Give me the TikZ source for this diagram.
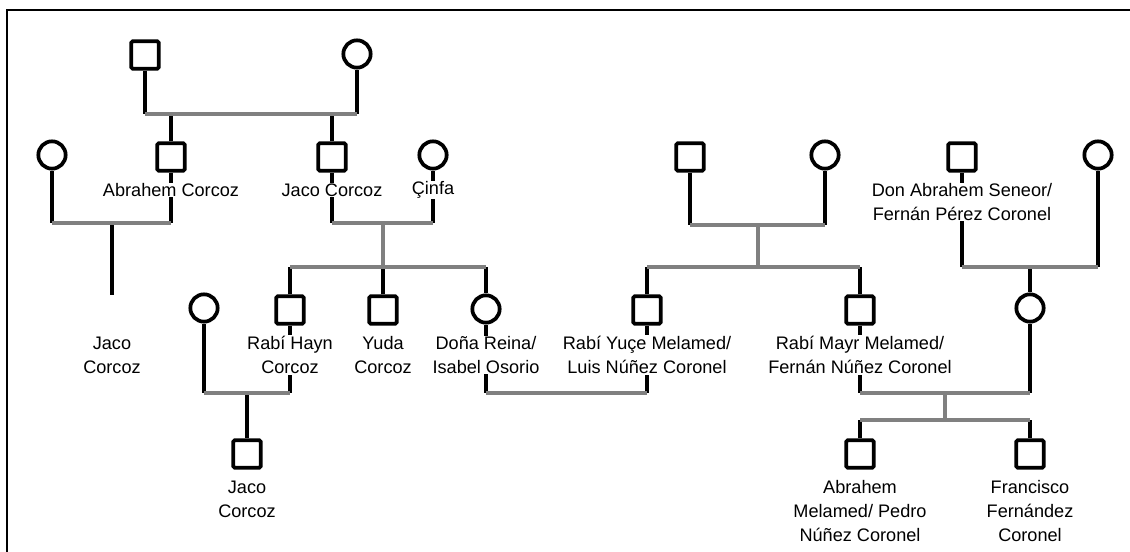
\documentclass[tikz,border=0pt]{standalone}
\usepackage{fontspec}
\setmainfont{Liberation Sans}
\usetikzlibrary{positioning}
\begin{document}
\begin{tikzpicture}[x=0.75pt,y=-0.75pt,
		male/.style={draw,line width=2.8pt,rectangle,rounded corners=1pt,minimum size=20.5pt,inner sep=0pt},
		female/.style={draw,line width=2.8pt,circle,minimum size=20.5pt,inner sep=0pt},
		who/.style={fill=white,inner sep=0.6pt,align=center,font=\fontsize{13.6}{18}\selectfont},
		kin/.style={line width=2.8pt},
		wed/.style={line width=2.8pt,draw=gray}]
		\useasboundingbox (0,0) rectangle (1130,552);
		\draw[line width=1.5pt] (7,552) -- (7,10) -- (1130,10);
		% first generation
		\node[male] (gpaC) at (145,55) {};
		\node[female] (gmaC) at (357,54) {};
		\node[male] (gpaM) at (690,157) {};
		\node[female] (gmaM) at (825,155) {};
		\node[male] (seneor) at (962,157) {};
		\node[female] (wifeS) at (1098,155) {};
		% second generation
		\node[female] (wifeA) at (52,155) {};
		\node[male] (abrahem) at (171,157) {};
		\node[male] (jaco) at (332,157) {};
		\node[female] (cinfa) at (433,155) {};
		% third generation
		\node[female] (wifeH) at (204,308) {};
		\node[male] (hayn) at (290,310) {};
		\node[male] (yuda) at (383,310) {};
		\node[female] (reina) at (486,309) {};
		\node[male] (yuce) at (647,310) {};
		\node[male] (mayr) at (860,310) {};
		\node[female] (senDau) at (1030,308) {};
		% fourth generation
		\coordinate (jacoA) at (112,295);
		\node[male] (jacoB) at (247,454) {};
		\node[male] (pedro) at (860,454) {};
		\node[male] (francisco) at (1030,454) {};
		% marriages and descent
		\coordinate (wA) at (251,114);
		\draw[kin] (gpaC) -- (gpaC |- wA);
		\draw[kin] (gmaC) -- (gmaC |- wA);
		\draw[kin] (abrahem) -- (abrahem |- wA);
		\draw[kin] (jaco) -- (jaco |- wA);
		\draw[wed] (gpaC |- wA) -- (gmaC |- wA);
		\coordinate (wB) at (112,223);
		\draw[kin] (wifeA) -- (wifeA |- wB);
		\draw[kin] (abrahem) -- (abrahem |- wB);
		\draw[kin] (wB) -- (jacoA);
		\draw[wed] (wifeA |- wB) -- (abrahem |- wB);
		\coordinate (wC) at (383,223);
		\coordinate (sC) at (383,267);
		\draw[kin] (jaco) -- (jaco |- wC);
		\draw[kin] (cinfa) -- (cinfa |- wC);
		\draw[kin] (hayn) -- (hayn |- sC);
		\draw[kin] (yuda) -- (yuda |- sC);
		\draw[kin] (reina) -- (reina |- sC);
		\draw[wed] (jaco |- wC) -- (cinfa |- wC);
		\draw[wed] (wC) -- (sC);
		\draw[wed] (hayn |- sC) -- (reina |- sC);
		\coordinate (wD) at (247,393);
		\draw[kin] (wifeH) -- (wifeH |- wD);
		\draw[kin] (hayn) -- (hayn |- wD);
		\draw[kin] (wD) -- (jacoB);
		\draw[wed] (wifeH |- wD) -- (hayn |- wD);
		\coordinate (wF) at (758,225);
		\coordinate (sF) at (758,267);
		\draw[kin] (gpaM) -- (gpaM |- wF);
		\draw[kin] (gmaM) -- (gmaM |- wF);
		\draw[kin] (yuce) -- (yuce |- sF);
		\draw[kin] (mayr) -- (mayr |- sF);
		\draw[wed] (gpaM |- wF) -- (gmaM |- wF);
		\draw[wed] (wF) -- (sF);
		\draw[wed] (yuce |- sF) -- (mayr |- sF);
		\coordinate (wE) at (566,393);
		\draw[kin] (reina) -- (reina |- wE);
		\draw[kin] (yuce) -- (yuce |- wE);
		\draw[wed] (reina |- wE) -- (yuce |- wE);
		\coordinate (wG) at (1030,267);
		\draw[kin] (seneor) -- (seneor |- wG);
		\draw[kin] (wifeS) -- (wifeS |- wG);
		\draw[kin] (wG) -- (senDau);
		\draw[wed] (seneor |- wG) -- (wifeS |- wG);
		\coordinate (wH) at (945,393);
		\coordinate (sH) at (945,420);
		\draw[kin] (mayr) -- (mayr |- wH);
		\draw[kin] (senDau) -- (senDau |- wH);
		\draw[kin] (pedro) -- (pedro |- sH);
		\draw[kin] (francisco) -- (francisco |- sH);
		\draw[wed] (mayr |- wH) -- (senDau |- wH);
		\draw[wed] (wH) -- (sH);
		\draw[wed] (pedro |- sH) -- (francisco |- sH);
		% names
		\node[who] (abrahemN) at (171,190) {Abrahem Corcoz};
		\node[who] (jacoN) at (332,190) {Jaco Corcoz};
		\node[who] (cinfaN) at (433,190) {Çinfa};
		\node[who] (seneorN) at (962,202) {Don Abrahem Seneor/\\Fernán Pérez Coronel};
		\node[who] (jacoAN) at (112,355) {Jaco\\Corcoz};
		\node[who] (haynN) at (290,355) {Rabí Hayn\\Corcoz};
		\node[who] (yudaN) at (383,355) {Yuda\\Corcoz};
		\node[who] (reinaN) at (486,355) {Doña Reina/\\Isabel Osorio};
		\node[who] (yuceN) at (647,355) {Rabí Yuçe Melamed/\\Luis Núñez Coronel};
		\node[who] (mayrN) at (860,355) {Rabí Mayr Melamed/\\Fernán Núñez Coronel};
		\node[who] (jacoBN) at (247,499) {Jaco\\Corcoz};
		\node[who] (pedroN) at (860,511) {Abrahem\\Melamed/ Pedro\\Núñez Coronel};
		\node[who] (franciscoN) at (1030,511) {Francisco\\Fernández\\Coronel};
\end{tikzpicture}
\end{document}
